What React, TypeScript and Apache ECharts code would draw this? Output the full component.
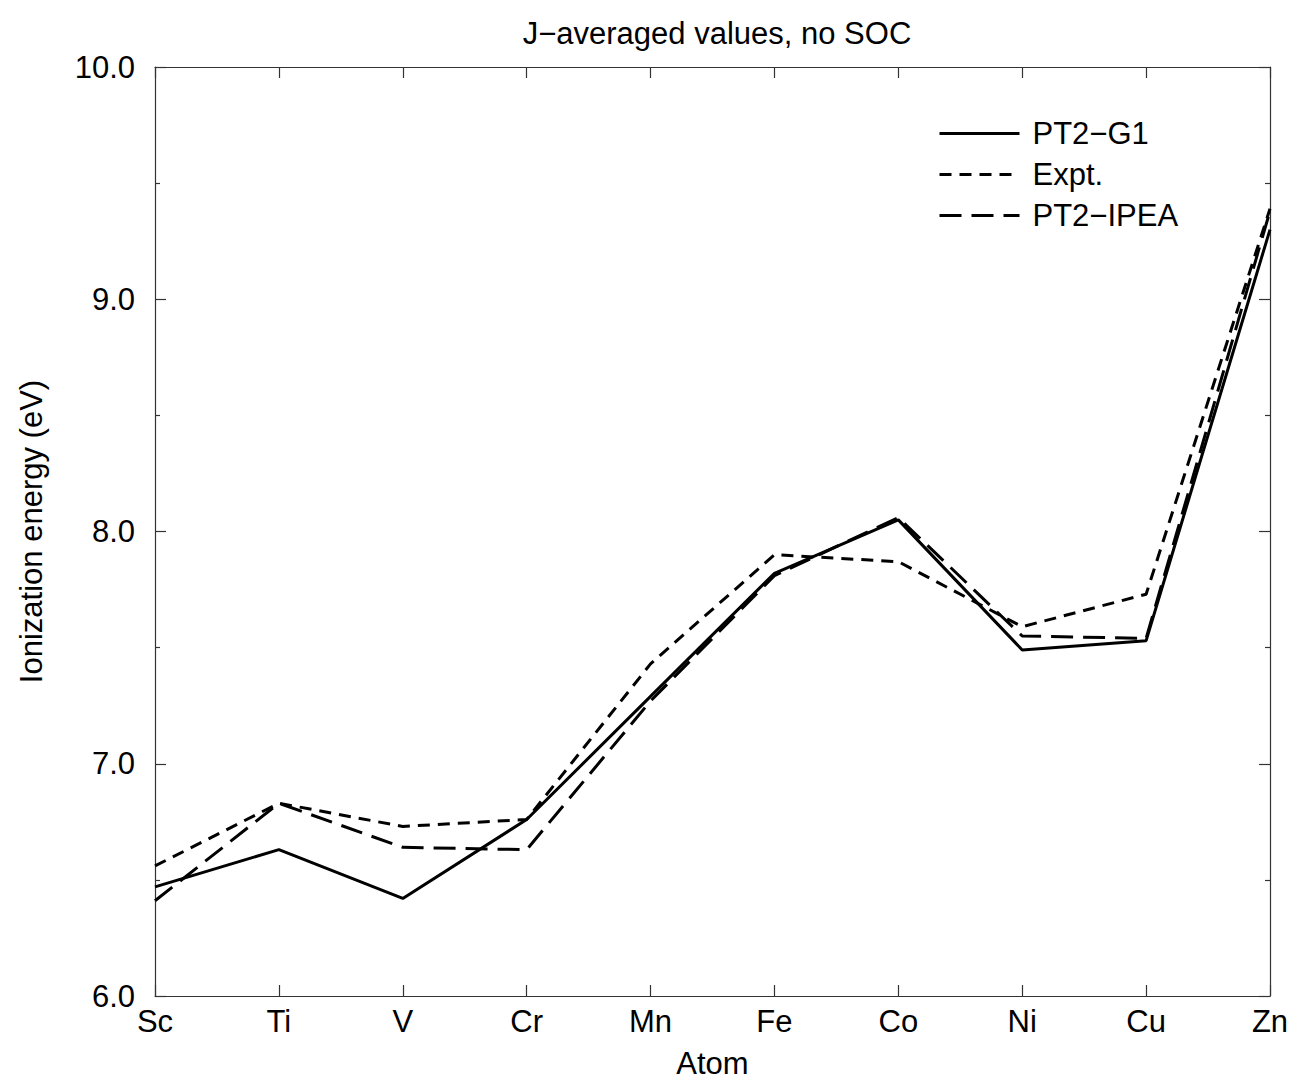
import React, { useEffect, useRef } from "react";
import * as echarts from "echarts";

const categories = ["Sc", "Ti", "V", "Cr", "Mn", "Fe", "Co", "Ni", "Cu", "Zn"];
const pt2g1 = [6.47, 6.63, 6.42, 6.76, 7.29, 7.82, 8.05, 7.49, 7.53, 9.30];
const expt = [6.56, 6.83, 6.73, 6.76, 7.43, 7.90, 7.87, 7.59, 7.73, 9.39];
const pt2ipea = [6.41, 6.83, 6.64, 6.63, 7.27, 7.81, 8.06, 7.55, 7.54, 9.38];
const seriesNames = ["PT2\u2212G1", "Expt.", "PT2\u2212IPEA"];

const FONT = "'Liberation Sans', Arial, Helvetica, sans-serif";
const FS = 31;

export default function App() {
  const ref = useRef<HTMLDivElement>(null);
  useEffect(() => {
    document.body.style.margin = "0";
    const chart = echarts.init(ref.current!, null, { renderer: "svg" });
    const axisLine = { show: true, lineStyle: { color: "#333", width: 1.2 } };
    const xBase = {
      type: "category" as const,
      data: categories,
      boundaryGap: false,
      axisLine,
      axisTick: { show: true, inside: true, length: 11, lineStyle: { color: "#333", width: 1.2 } },
      splitLine: { show: false },
    };
    const yBase = {
      type: "value" as const,
      min: 6,
      max: 10,
      interval: 1,
      axisLine,
      axisTick: { show: true, inside: true, length: 11, lineStyle: { color: "#333", width: 1.2 } },
      minorTick: { show: true, splitNumber: 2, length: 5, lineStyle: { color: "#333", width: 1.2 } },
      splitLine: { show: false },
    };
    chart.setOption({
      animation: false,
      backgroundColor: "#fff",
      textStyle: { fontFamily: FONT },
      title: {
        text: "J\u2212averaged values, no SOC",
        left: 712,
        textAlign: "center",
        top: 13,
        textStyle: { fontFamily: FONT, fontSize: FS, fontWeight: "normal", color: "#000" },
      },
      grid: { left: 155, right: 22, top: 67, bottom: 89, containLabel: false },
      legend: {
        orient: "vertical",
        left: 933,
        top: 113,
        itemWidth: 80,
        itemHeight: 20,
        itemGap: 10,
        data: seriesNames,
        itemStyle: { color: "transparent", opacity: 0, borderWidth: 0 },
        lineStyle: { width: 3 },
        textStyle: { fontFamily: FONT, fontSize: FS, color: "#000", padding: [0, 0, 0, 8] },
      },
      xAxis: [
        {
          ...xBase,
          position: "bottom",
          name: "Atom",
          nameLocation: "middle",
          nameGap: 52,
          nameTextStyle: { fontFamily: FONT, fontSize: FS, color: "#000" },
          axisLabel: { show: true, margin: 10, fontFamily: FONT, fontSize: FS, color: "#000" },
        },
        { ...xBase, position: "top", axisLabel: { show: false } },
      ],
      yAxis: [
        {
          ...yBase,
          position: "left",
          name: "Ionization energy (eV)",
          nameLocation: "middle",
          nameGap: 108,
          nameTextStyle: { fontFamily: FONT, fontSize: FS, color: "#000" },
          axisLabel: {
            show: true,
            margin: 20,
            fontFamily: FONT,
            fontSize: FS,
            color: "#000",
            formatter: (v: number) => v.toFixed(1),
          },
        },
        { ...yBase, position: "right", axisLabel: { show: false } },
      ],
      series: [
        {
          name: seriesNames[0],
          type: "line",
          data: pt2g1,
          symbol: "none",
          lineStyle: { color: "#000", width: 3, type: "solid" },
          itemStyle: { color: "#000" },
        },
        {
          name: seriesNames[1],
          type: "line",
          data: expt,
          symbol: "none",
          lineStyle: { color: "#000", width: 3, type: [12, 8] },
          itemStyle: { color: "#000" },
        },
        {
          name: seriesNames[2],
          type: "line",
          data: pt2ipea,
          symbol: "none",
          lineStyle: { color: "#000", width: 3, type: [22, 10] },
          itemStyle: { color: "#000" },
        },
      ],
    });
    return () => chart.dispose();
  }, []);
  return <div ref={ref} style={{ width: 1292, height: 1085 }} />;
}
